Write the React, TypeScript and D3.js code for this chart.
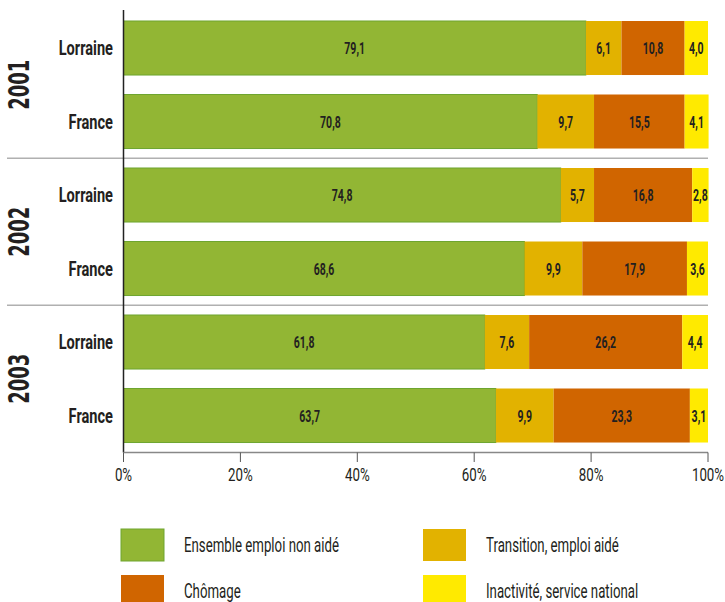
import React from "react";
import * as d3 from "d3";

const years = ["2001", "2002", "2003"];
const regions = ["Lorraine", "France"];
const seriesNames = ["Ensemble emploi non aidé", "Transition, emploi aidé", "Chômage", "Inactivité, service national"];
const emploiNonAide = [79.1, 70.8, 74.8, 68.6, 61.8, 63.7];
const transition = [6.1, 9.7, 5.7, 9.9, 7.6, 9.9];
const chomage = [10.8, 15.5, 16.8, 17.9, 26.2, 23.3];
const inactivite = [4.0, 4.1, 2.8, 3.6, 4.4, 3.1];
const xTicks = [0, 20, 40, 60, 80, 100];
const colors = ["#92b634", "#e2b200", "#d06500", "#ffea00"];
const strokes = ["#6ea52f", "#e2b200", "#d06500", "#ffea00"];

const FONT = "Roboto, 'Noto Sans', sans-serif";

function CText(props: any) {
  const { x, y, sx = 0.8, children, ...rest } = props;
  return (
    <text transform={`translate(${x},${y}) scale(${sx},1)`} {...rest}>
      {children}
    </text>
  );
}

export default function App() {
  const W = 725, H = 602;
  const rows = years.flatMap((y) => regions.map((r) => `${y}|${r}`));
  const seriesVals = [emploiNonAide, transition, chomage, inactivite];
  const data = rows.map((key, i) => {
    const o: any = { key };
    seriesNames.forEach((s, j) => (o[s] = seriesVals[j][i]));
    return o;
  });
  const stack = d3.stack<any>().keys(seriesNames)(data);
  const x = d3.scaleLinear().domain([0, 100]).range([123.5, 708]);
  const y = d3.scaleBand().domain(rows).range([11.26, 452.26]).paddingInner(0.265).paddingOuter(0.1325);
  const step = y.step();
  const y0 = 11.26;
  const fmt = (v: number) => v.toFixed(1).replace(".", ",");

  return (
    <svg width={W} height={H} style={{ position: "absolute", left: 0, top: 0, background: "#fff" }} fontFamily={FONT}>
      {[1, 2].map((g) => (
        <line key={g} x1={7} x2={708} y1={y0 + g * 2 * step} y2={y0 + g * 2 * step} stroke="#b0b0b0" strokeWidth={1.5} />
      ))}
      {stack.map((s, j) => (
        <g key={s.key}>
          {s.map((d, i) => (
            <rect
              key={i}
              x={x(d[0])}
              y={y(rows[i])!}
              width={x(d[1]) - x(d[0])}
              height={y.bandwidth()}
              fill={colors[j]}
              stroke={strokes[j]}
              strokeWidth={j === 0 ? 1 : 0}
            />
          ))}
          {s.map((d, i) => (
            <CText
              key={"t" + i}
              x={(x(d[0]) + x(d[1])) / 2}
              y={y(rows[i])! + y.bandwidth() / 2}
              sx={0.62}
              dy="0.36em"
              textAnchor="middle"
              fontSize={17}
              fontWeight="bold"
              fill="#231f20"
            >
              {fmt(d[1] - d[0])}
            </CText>
          ))}
        </g>
      ))}
      <line x1={123.5} x2={123.5} y1={10} y2={452.5} stroke="#222" strokeWidth={1.5} />
      {rows.map((r) => (
        <CText key={r} x={113} y={y(r)! + y.bandwidth() / 2} sx={0.73} dy="0.36em" textAnchor="end" fontSize={20} fontWeight="bold" fill="#231f20">
          {r.split("|")[1]}
        </CText>
      ))}
      {years.map((yr, g) => {
        const cy = y0 + (g * 2 + 1) * step;
        return (
          <text key={yr} transform={`translate(18.5,${cy}) rotate(-90) scale(0.62,1)`} textAnchor="middle" dy="0.36em" fontSize={29} fontWeight="bold" fill="#231f20" fontFamily="'DejaVu Sans', sans-serif">
            {yr}
          </text>
        );
      })}
      <line x1={123.5} x2={708} y1={452.5} y2={452.5} stroke="#888" strokeWidth={1.5} />
      {xTicks.map((t) => (
        <g key={t}>
          <line x1={x(t)} x2={x(t)} y1={452.5} y2={462} stroke="#555" strokeWidth={1} />
          <CText x={x(t)} y={481} sx={0.74} textAnchor="middle" fontSize={18} fill="#231f20">
            {t}%
          </CText>
        </g>
      ))}
      {seriesNames.map((s, j) => {
        const col = j % 2;
        const row = Math.floor(j / 2);
        const lx = col === 0 ? 121 : 423;
        const ly = row === 0 ? 529 : 575;
        return (
          <g key={s}>
            <rect x={lx} y={ly} width={43} height={32} fill={colors[j]} stroke={strokes[j]} strokeWidth={j === 0 ? 1 : 0} />
            <CText x={lx + 63} y={ly + 16} sx={0.68} dy="0.36em" fontSize={19.5} fill="#231f20">
              {s}
            </CText>
          </g>
        );
      })}
    </svg>
  );
}
